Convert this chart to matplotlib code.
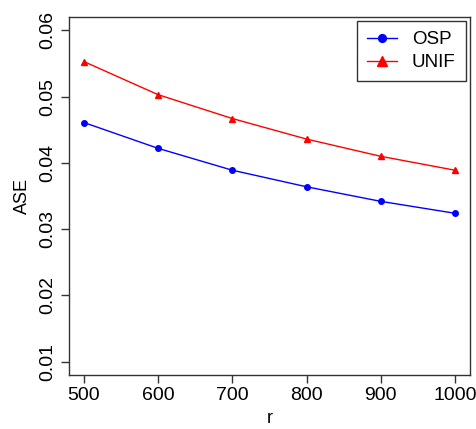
import matplotlib

matplotlib.use("Agg")

import matplotlib.pyplot as plt

plt.rcParams["font.family"] = ["Liberation Sans", "DejaVu Sans"]

# Data
r = [500, 600, 700, 800, 900, 1000]
ase_osp = [0.0461, 0.0422, 0.0389, 0.0364, 0.0342, 0.0324]
ase_unif = [0.0553, 0.0503, 0.0467, 0.0436, 0.0410, 0.0389]
yticks = [0.01, 0.02, 0.03, 0.04, 0.05, 0.06]
xticks = [500, 600, 700, 800, 900, 1000]

fig = plt.figure(figsize=(4.76, 4.29), dpi=100)
ax = fig.add_axes([0.145, 0.126, 0.842, 0.834])

ax.plot(r, ase_osp, color="blue", marker="o", markersize=4, lw=1, label="OSP")
ax.plot(r, ase_unif, color="red", marker="^", markersize=5, lw=1, label="UNIF")

ax.set_xlim(480, 1020)
ax.set_ylim(0.008, 0.062)
ax.set_xticks(xticks)
ax.set_yticks(yticks)
ax.set_yticklabels([f"{v:.2f}" for v in yticks], rotation=90, va="center")
ax.tick_params(labelsize=14, length=6, width=1, color="#333333", pad=3)
ax.set_xlabel("r", fontsize=13, labelpad=4)
ax.set_ylabel("ASE", fontsize=13, labelpad=6)

for s in ax.spines.values():
    s.set_color("#333333")
    s.set_linewidth(1)

leg = ax.legend(loc="upper right", fontsize=13.5, frameon=True, fancybox=False,
                edgecolor="black", handlelength=1.6, borderaxespad=0.2,
                handletextpad=0.8, labelspacing=0.3, markerscale=1.4,
                borderpad=0.55)
leg.get_frame().set_linewidth(1)

fig.savefig("out.png", dpi=100)
